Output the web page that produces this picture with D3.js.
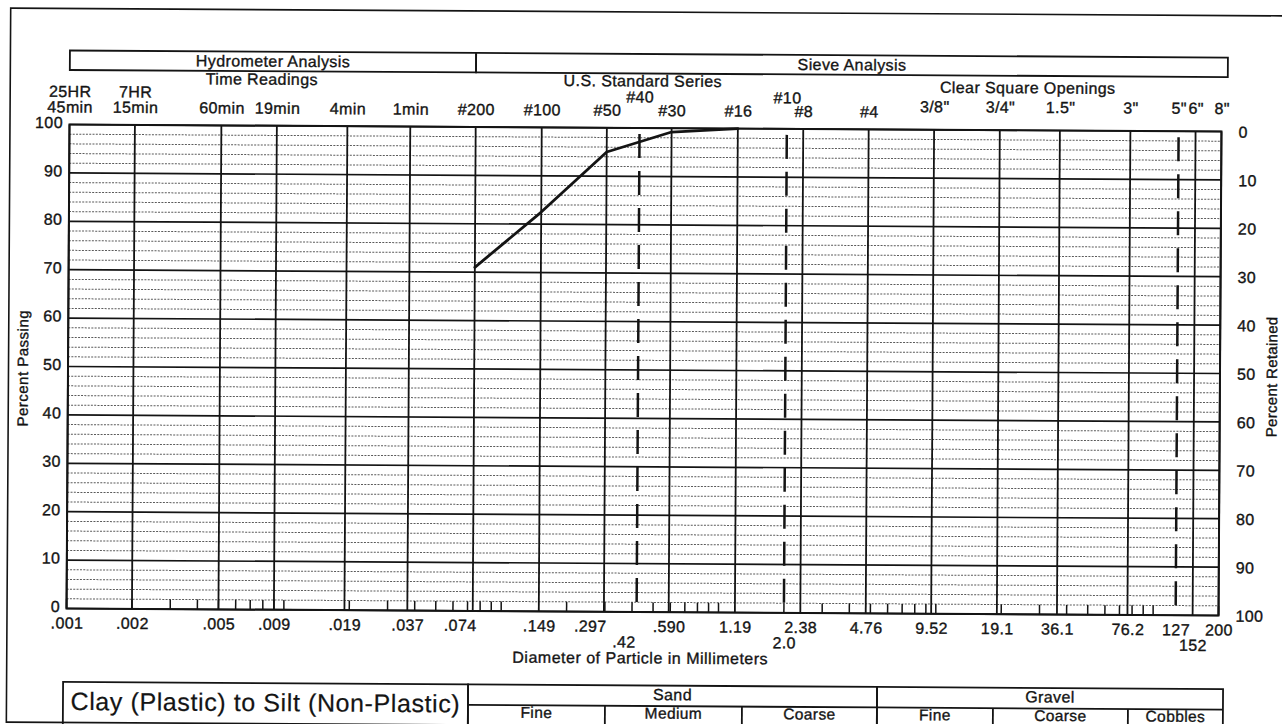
<!DOCTYPE html>
<html><head><meta charset="utf-8">
<script src="https://cdn.jsdelivr.net/npm/d3@7"></script>
<style>
html,body{margin:0;padding:0;background:#fff;}
svg{display:block;}
text{font-family:"Liberation Sans",Arial,Helvetica,sans-serif;fill:#141414;stroke:#141414;stroke-width:0.35px;}
</style></head><body>
<svg id="chart" width="1282" height="724"></svg>
<script>
// ---------------- data ----------------
const sampleDiameters = [0.074, 0.149, 0.297, 0.590, 1.19];
const samplePassing   = [71, 82.5, 95, 99.2, 100];

const percentTicks = [0,10,20,30,40,50,60,70,80,90,100];
const minorPercents = [2,4,6,8,12,14,16,18,22,24,26,28,32,34,36,38,42,44,46,48,52,54,56,58,62,64,66,68,72,74,76,78,82,84,86,88,92,94,96,98];

const gridDiameters   = [0.001,0.002,0.005,0.009,0.019,0.037,0.074,0.149,0.297,0.590,1.19,2.38,4.76,9.52,19.1,36.1,76.2,152,200];
const dashedDiameters = [0.42, 2.0, 127];
const minorMantissas  = [1,2,3,4,5,6,7,8,9];
const minorDecades    = [0.001,0.01,0.1,1,10,100];

const bottomValues1 = [0.001,0.002,0.005,0.009,0.019,0.037,0.074,0.149,0.297,0.590,1.19,2.38,4.76,9.52,19.1,36.1,76.2,127,200];
const bottomLabels1 = [".001",".002",".005",".009",".019",".037",".074",".149",".297",".590","1.19","2.38","4.76","9.52","19.1","36.1","76.2","127","200"];
const bottomValues2 = [0.42, 2.0, 152];
const bottomLabels2 = [".42","2.0","152"];

const hydroDiameters = [0.001,0.002,0.005,0.009,0.019,0.037];
const hydroUpper     = ["25HR","7HR","","","",""];
const hydroLower     = ["45min","15min","60min","19min","4min","1min"];

const sieveDiameters = [0.074,0.149,0.297,0.42,0.590,1.19,2.0,2.38,4.76];
const sieveNames     = ["#200","#100","#50","#40","#30","#16","#10","#8","#4"];
const sieveRaised    = ["#40","#10"];

const openingDiameters = [9.52,19.1,36.1,76.2,127,152,200];
const openingNames     = ['3/8"','3/4"','1.5"','3"','5"','6"','8"'];

const sandParts   = ["Fine","Medium","Coarse"];
const gravelParts = ["Fine","Coarse","Cobbles"];

// ---------------- layout ----------------
const W = 1282, H = 724, TILT = 0.35;
const M = {L:68, R:1220, T:128, B:612};
const INK = "#141414";
const labelNudge = {".074":-13, ".297":-14, ".42":-13};

const x = d3.scaleLog().domain([0.001,200]).range([M.L,M.R]);
const y = d3.scaleLinear().domain([0,100]).range([M.B,M.T]);
const yRet = d3.scaleLinear().domain([100,0]).range([M.B,M.T]);

const svg = d3.select("#chart");
svg.append("rect").attr("width",W).attr("height",H).attr("fill","#fff");
const root = svg.append("g")
  .attr("transform",`rotate(${TILT} ${(M.L+M.R)/2} ${(M.T+M.B)/2})`);

// page frame
root.append("rect").attr("x",8.5).attr("y",12).attr("width",1290).attr("height",714)
  .attr("fill","none").attr("stroke",INK).attr("stroke-width",1.6);

// minor horizontal grid (dotted)
root.append("g").selectAll("line").data(minorPercents).join("line")
  .attr("x1",M.L).attr("x2",M.R).attr("y1",d=>y(d)).attr("y2",d=>y(d))
  .attr("stroke","#5a5a5a").attr("stroke-width",1).attr("stroke-dasharray","2 1.3");

// major horizontal grid
root.append("g").selectAll("line").data(percentTicks).join("line")
  .attr("x1",M.L).attr("x2",M.R).attr("y1",d=>y(d)).attr("y2",d=>y(d))
  .attr("stroke",INK).attr("stroke-width",1.7);

// minor log ticks at bottom
const minorVals = [];
minorDecades.forEach(dec=>minorMantissas.forEach(m=>{const v=+(dec*m).toPrecision(3); if(v>=0.001 && v<=200) minorVals.push(v);}));
root.append("g").selectAll("line").data(minorVals).join("line")
  .attr("x1",d=>x(d)).attr("x2",d=>x(d)).attr("y1",y(0)).attr("y2",y(2))
  .attr("stroke",INK).attr("stroke-width",1.5);

// major vertical grid
root.append("g").selectAll("line").data(gridDiameters).join("line")
  .attr("x1",d=>x(d)).attr("x2",d=>x(d)).attr("y1",M.T).attr("y2",M.B)
  .attr("stroke",INK).attr("stroke-width",1.8);

// dashed classification verticals
root.append("g").selectAll("line").data(dashedDiameters).join("line")
  .attr("x1",d=>x(d)).attr("x2",d=>x(d)).attr("y1",M.T).attr("y2",M.B)
  .attr("stroke",INK).attr("stroke-width",2.5)
  .attr("stroke-dasharray","24 13").attr("stroke-dashoffset",-6);

// plot frame
root.append("rect").attr("x",M.L).attr("y",M.T).attr("width",M.R-M.L).attr("height",M.B-M.T)
  .attr("fill","none").attr("stroke",INK).attr("stroke-width",2);

// data curve
const pts = sampleDiameters.map((d,i)=>[d,samplePassing[i]]);
root.append("path").datum(pts)
  .attr("d",d3.line().x(d=>x(d[0])).y(d=>y(d[1])))
  .attr("fill","none").attr("stroke",INK).attr("stroke-width",2.8)
  .attr("stroke-linejoin","round").attr("stroke-linecap","round");

// ---------- axes ----------
function styleAxis(g, size){
  g.select(".domain").remove();
  g.selectAll(".tick line").remove();
  g.selectAll("text").attr("font-size",size).attr("fill",INK)
   .attr("font-family",'"Liberation Sans",Arial,sans-serif').style("letter-spacing","0.4px");
}
const leftAx = root.append("g").attr("transform",`translate(${M.L},0)`)
  .call(d3.axisLeft(y).tickValues(percentTicks).tickSize(0).tickPadding(6.5));
styleAxis(leftAx,16);
leftAx.selectAll("text").attr("dy","0.32em").attr("y",-2);

const rightAx = root.append("g").attr("transform",`translate(${M.R},0)`)
  .call(d3.axisRight(yRet).tickValues(percentTicks).tickSize(0).tickPadding(17));
styleAxis(rightAx,16);
rightAx.selectAll("text").attr("dy","0.35em");

const bot1 = root.append("g").attr("transform",`translate(0,${M.B})`)
  .call(d3.axisBottom(x).tickValues(bottomValues1).tickFormat((d,i)=>bottomLabels1[i]).tickSize(0));
styleAxis(bot1,16);
bot1.selectAll("text").attr("y",20).attr("dy",0)
  .attr("x",function(){return labelNudge[this.textContent]||0;});

const bot2 = root.append("g").attr("transform",`translate(0,${M.B})`)
  .call(d3.axisBottom(x).tickValues(bottomValues2).tickFormat((d,i)=>bottomLabels2[i]).tickSize(0));
styleAxis(bot2,16);
bot2.selectAll("text").attr("y",35.5).attr("dy",0)
  .attr("x",function(){return labelNudge[this.textContent]||0;});

// top: hydrometer time readings
const hydLow = root.append("g").call(d3.axisTop(x).tickValues(hydroDiameters).tickFormat((d,i)=>hydroLower[i]).tickSize(0));
styleAxis(hydLow,16); hydLow.selectAll("text").attr("y",116).attr("dy",0);
const hydUp = root.append("g").call(d3.axisTop(x).tickValues(hydroDiameters).tickFormat((d,i)=>hydroUpper[i]).tickSize(0));
styleAxis(hydUp,16); hydUp.selectAll("text").attr("y",100.5).attr("dy",0);

// top: sieve numbers
const siv = root.append("g").call(d3.axisTop(x).tickValues(sieveDiameters).tickFormat((d,i)=>sieveNames[i]).tickSize(0));
styleAxis(siv,16);
siv.selectAll("text").attr("dy",0).attr("y",function(){return sieveRaised.includes(this.textContent)?102.5:116;});

// top: clear square openings
const opn = root.append("g").call(d3.axisTop(x).tickValues(openingDiameters).tickFormat((d,i)=>openingNames[i]).tickSize(0));
styleAxis(opn,16); opn.selectAll("text").attr("y",110.5).attr("dy",0);

// ---------- header boxes ----------
const hb = {y0:54, y1:73.5};
root.append("rect").attr("x",x(0.001)).attr("y",hb.y0).attr("width",x(0.074)-x(0.001)).attr("height",hb.y1-hb.y0)
  .attr("fill","none").attr("stroke",INK).attr("stroke-width",1.8);
root.append("rect").attr("x",x(0.074)).attr("y",hb.y0).attr("width",M.R+6-x(0.074)).attr("height",hb.y1-hb.y0)
  .attr("fill","none").attr("stroke",INK).attr("stroke-width",1.8);

function label(txt, cx, by, size, extra){
  const t = root.append("text").attr("x",cx).attr("y",by).attr("text-anchor","middle")
    .attr("font-size",size).style("letter-spacing",(extra||0.4)+"px").text(txt);
  return t;
}
label("Hydrometer Analysis",(x(0.001)+x(0.074))/2,69,16);
label("Sieve Analysis",(x(0.074)+M.R+6)/2,69,16);
label("Time Readings",260,87,16);
label("U.S. Standard Series",641,86.5,16);
label("Clear Square Openings",1026,91,16);

// axis titles
root.append("text").attr("transform","translate(28,372) rotate(-90)").attr("text-anchor","middle")
  .attr("font-size",15).style("letter-spacing","0.5px").text("Percent Passing");
root.append("text").attr("transform","translate(1277,373) rotate(-90)").attr("text-anchor","middle")
  .attr("font-size",15).style("letter-spacing","0.3px").text("Percent Retained");
label("Diameter of Particle in Millimeters",642,663.5,16,0.5);

// ---------- classification table ----------
const tb = {top:685.5, mid:706, bot:730};
const clay = {x0:65, x1:470};
const sand = {x0:470, x1:879, cuts:[607,744]};
const gravel = {x0:879, x1:1225, cuts:[995,1130]};
const sw = 1.8;
root.append("rect").attr("x",clay.x0).attr("y",tb.top).attr("width",clay.x1-clay.x0).attr("height",tb.bot-tb.top)
  .attr("fill","none").attr("stroke",INK).attr("stroke-width",sw);
label("Clay (Plastic) to Silt (Non-Plastic)",(clay.x0+clay.x1)/2,713.5,25,0.6).style("stroke-width","0.2px");

[[sand,"Sand",sandParts],[gravel,"Gravel",gravelParts]].forEach(([b,name,parts])=>{
  root.append("rect").attr("x",b.x0).attr("y",tb.top).attr("width",b.x1-b.x0).attr("height",tb.bot-tb.top)
    .attr("fill","none").attr("stroke",INK).attr("stroke-width",sw);
  root.append("line").attr("x1",b.x0).attr("x2",b.x1).attr("y1",tb.mid).attr("y2",tb.mid)
    .attr("stroke",INK).attr("stroke-width",sw);
  const edges = [b.x0, ...b.cuts, b.x1];
  b.cuts.forEach(c=>root.append("line").attr("x1",c).attr("x2",c).attr("y1",tb.mid).attr("y2",tb.bot)
    .attr("stroke",INK).attr("stroke-width",sw));
  label(name,(b.x0+b.x1)/2,700,16);
  parts.forEach((p,i)=>label(p,(edges[i]+edges[i+1])/2,718.5,15.5));
});
</script>
</body></html>
